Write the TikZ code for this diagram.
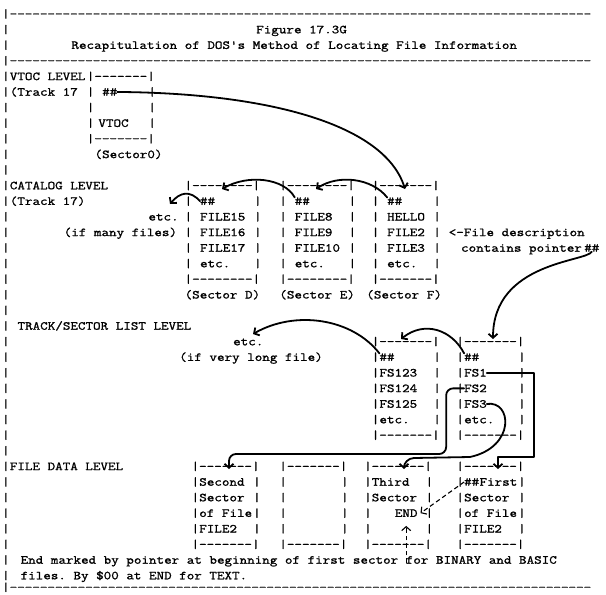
\documentclass[tikz,border=0pt]{standalone}
\usepackage{fontspec}
\setmonofont{Latin Modern Mono}[FakeStretch=1.2,FakeBold=1.2]
\usetikzlibrary{arrows.meta}
\newcommand\dashes[1]{\foreach\k in {1,...,#1}{-}}
\newcommand\T[4]{\node[txt] (#1) at ({2.15+7.7*(#2)},{-(17.7+15.6*(#3))}) {#4};}
\tikzset{
  txt/.style={font=\ttfamily\fontsize{12.22}{15.6}\selectfont, anchor=base west, inner sep=0pt, outer sep=0pt},
  hand/.style={line width=1.8pt, line cap=round, line join=round},
  barb/.style={-{Straight Barb[length=4pt,width=9pt]}},
  dashy/.style={line width=1.1pt, dash pattern=on 4.5pt off 3pt},
}
\begin{document}
\begin{tikzpicture}[x=1pt,y=1pt]
\useasboundingbox (0,0) rectangle (606,-595);
% frame rules and left border
\T{rule0}{0}{0}{|\dashes{77}}
\T{figno}{33}{1}{Figure 17.3G}
\T{title}{9}{2}{Recapitulation of DOS's Method of Locating File Information}
\T{rule1}{0}{3}{|\dashes{77}}
\foreach \r in {1,2} {\T{lb\r}{0}{\r}{|}}
\foreach \r in {4,...,36} {\T{lb\r}{0}{\r}{|}}
\T{rule2}{0}{36.75}{|\dashes{77}}
% VTOC level
\T{vlev}{1}{4}{VTOC LEVEL}
\T{vtop}{11}{4}{|\dashes{7}|}
\T{vtrk}{1}{5}{(Track 17}
\foreach \r in {5,6,7} {\T{vl\r}{11}{\r}{|}\T{vr\r}{19}{\r}{|}}
\T{vhh}{13}{5}{\#\#}
\T{vtoc}{12.5}{7}{VTOC}
\T{vbot}{11}{8}{|\dashes{7}|}
\T{vsec}{12}{9}{(Sector0)}
% Catalog level
\T{clev}{1}{11}{CATALOG LEVEL}
\T{dtop}{23.7}{11}{|\dashes{8}|}
\T{etop}{36}{11}{|\dashes{8}|}
\T{ftop}{48}{11}{|\dashes{7}|}
\T{ctrk}{1}{12}{(Track 17)}
\foreach \r in {12,...,16} {\T{dl\r}{23.7}{\r}{|}\T{dr\r}{32.7}{\r}{|}\T{el\r}{36}{\r}{|}\T{er\r}{45}{\r}{|}\T{fl\r}{48}{\r}{|}\T{fr\r}{56}{\r}{|}}
\T{dhh}{25.7}{12}{\#\#}
\T{ehh}{38}{12}{\#\#}
\T{fhh}{50}{12}{\#\#}
\T{cetc}{19}{13}{etc.}
\T{d1}{25.7}{13}{FILE15}
\T{e1}{38}{13}{FILE8}
\T{f1}{50}{13}{HELLO}
\T{cmany}{8}{14}{(if many files)}
\T{d2}{25.7}{14}{FILE16}
\T{e2}{38}{14}{FILE9}
\T{f2}{50}{14}{FILE2}
\T{fdesc}{58}{14}{<-File description}
\T{d3}{25.7}{15}{FILE17}
\T{e3}{38}{15}{FILE10}
\T{f3}{50}{15}{FILE3}
\T{fcont}{59.6}{15}{contains pointer}
\T{phh}{75.6}{15}{\#\#}
\T{d4}{25.7}{16}{etc.}
\T{e4}{38}{16}{etc.}
\T{f4}{50}{16}{etc.}
\T{dbot}{23.7}{17}{|\dashes{8}|}
\T{ebot}{36}{17}{|\dashes{8}|}
\T{fbot}{48}{17}{|\dashes{7}|}
\T{dsec}{23.7}{18}{(Sector D)}
\T{esec}{36}{18}{(Sector E)}
\T{fsec}{47.3}{18}{(Sector F)}
% Track/sector list level
\T{tlev}{2}{20}{TRACK/SECTOR LIST LEVEL}
\T{tetc}{30}{21}{etc.}
\T{atop}{48}{21}{|\dashes{7}|}
\T{btop}{59}{21}{|\dashes{7}|}
\T{tlong}{23}{22}{(if very long file)}
\foreach \r in {22,...,26} {\T{al\r}{48}{\r}{|}\T{ar\r}{56}{\r}{|}\T{bl\r}{59}{\r}{|}\T{br\r}{67}{\r}{|}}
\T{ahh}{49}{22}{\#\#}
\T{bhh}{60}{22}{\#\#}
\T{a1}{49}{23}{FS123}
\T{fs1}{60}{23}{FS1}
\T{a2}{49}{24}{FS124}
\T{fs2}{60}{24}{FS2}
\T{a3}{49}{25}{FS125}
\T{fs3}{60}{25}{FS3}
\T{a4}{49}{26}{etc.}
\T{b4}{60}{26}{etc.}
\T{abot}{48}{27}{|\dashes{7}|}
\T{bbot}{59}{27}{|\dashes{7}|}
% File data level
\T{dlev}{1}{29}{FILE DATA LEVEL}
\T{k1top}{24.6}{29}{|\dashes{7}|}
\T{k2top}{36}{29}{|\dashes{7}|}
\T{k3top}{47}{29}{|\dashes{7}|}
\T{k4top}{59}{29}{|\dashes{7}|}
\foreach \r in {30,...,33} {\T{ka\r}{24.6}{\r}{|}\T{kb\r}{32.6}{\r}{|}\T{kc\r}{36}{\r}{|}\T{kd\r}{44}{\r}{|}\T{ke\r}{47}{\r}{|}\T{kf\r}{55}{\r}{|}\T{kg\r}{59}{\r}{|}\T{kh\r}{67}{\r}{|}}
\T{s1}{25.6}{30}{Second}
\T{t1}{48}{30}{Third}
\T{ffhh}{60}{30}{\#\#}
\T{u1}{62}{30}{First}
\T{s2}{25.6}{31}{Sector}
\T{t2}{48}{31}{Sector}
\T{u2}{60}{31}{Sector}
\T{s3}{25.6}{32}{of File}
\T{endw}{51}{32}{END}
\T{u3}{60}{32}{of File}
\T{s4}{25.6}{33}{FILE2}
\T{u4}{60}{33}{FILE2}
\T{k1bot}{24.6}{34}{|\dashes{7}|}
\T{k2bot}{36}{34}{|\dashes{7}|}
\T{k3bot}{47}{34}{|\dashes{7}|}
\T{k4bot}{59}{34}{|\dashes{7}|}
\T{note1}{2.4}{35}{End marked by pointer at beginning of first sector for BINARY and BASIC}
\T{note2}{2.4}{36}{files. By \$00 at END for TEXT.}
% hand-drawn pointers
\coordinate (tipF) at (405,-189);
\draw[hand,barb] (vhh.east) .. controls (270,-93) and (385,-125) .. (tipF);
\coordinate (tipE) at (316,-189);
\draw[hand,barb] (fhh.north west) .. controls (372,-178) and (338,-174) .. (tipE);
\coordinate (tipD) at (222,-189);
\draw[hand,barb] (ehh.north west) .. controls (284,-178) and (248,-174) .. (tipD);
\coordinate (tipC) at (170,-204);
\draw[hand,barb] (dhh.west) .. controls (190,-190) and (180,-192) .. (tipC);
\coordinate (tipB) at (493,-339);
\draw[hand,barb] (phh.south) .. controls (586,-262) and (493,-262) .. (tipB);
\coordinate (tipA) at (401,-339);
\draw[hand,barb] (bhh.north west) .. controls (452,-330) and (425,-320) .. (tipA);
\coordinate (tipT) at (253,-334);
\draw[hand,barb] (ahh.north west) .. controls (352,-318) and (295,-310) .. (tipT);
\coordinate (tip4) at (498,-469);
\draw[hand,barb] (fs1.east) -- ++(47,0) |- (498,-457) -- (tip4);
\coordinate (tip1) at (229,-469);
\draw[hand,barb,rounded corners=7pt] (fs2.west) -- ++(-18,0) |- (229,-454) -- (tip1);
\coordinate (tip3) at (404,-469);
\draw[hand,barb] (fs3.east) .. controls (512,-400) and (516,-447) .. (470,-457) -- (414,-458) to[out=180,in=90] (tip3);
\draw[dashy,barb] (ffhh.west) -- ([xshift=3pt]endw.east);
\draw[dashy,barb] ([yshift=-46pt]endw.south) -- ([yshift=-9pt]endw.south);
\end{tikzpicture}
\end{document}
